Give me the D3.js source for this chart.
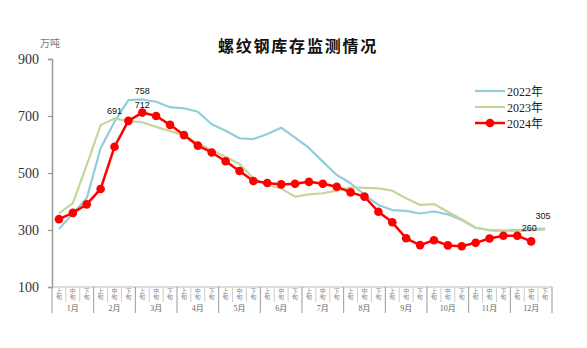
<!DOCTYPE html>
<html>
<head>
<meta charset="utf-8">
<script src="https://cdn.jsdelivr.net/npm/d3@7/dist/d3.min.js"></script>
<style>
  html, body { margin: 0; padding: 0; background: #fff; }
  svg { display: block; }
  .dekad { writing-mode: vertical-rl; text-orientation: upright; }
</style>
</head>
<body>
<svg id="chart" width="587" height="348"></svg>
<script>
// Rebar inventory, 10-day periods (上旬/中旬/下旬) for each month, unit: 万吨
const months = ["1月","2月","3月","4月","5月","6月","7月","8月","9月","10月","11月","12月"];
const dekads = ["上旬","中旬","下旬"];
const yTicks = [100, 300, 500, 700, 900];

const series2022 = [303, 358, 411, 587, 680, 756, 758, 750, 731, 727, 715, 671,
                    648, 622, 619, 637, 659, 624, 588, 540, 493, 464, 423, 388,
                    370, 367, 358, 365, 355, 335, 308, 300, 298, 300, 302, 305];
const series2023 = [358, 394, 528, 668, 691, 683, 678, 662, 647, 633, 604, 580,
                    557, 532, 481, 458, 446, 417, 425, 429, 438, 450, 448, 446,
                    438, 411, 388, 391, 364, 337, 308, 299, 296, 296, 299, 302];
const series2024 = [338, 360, 390, 444, 592, 683, 712, 700, 669, 633, 596, 572,
                    541, 507, 472, 465, 460, 462, 469, 462, 452, 432, 417, 364,
                    327, 271, 247, 264, 246, 243, 255, 270, 280, 280, 260];

const seriesNames = ["2022年", "2023年", "2024年"];
const seriesColors = ["#92CDDC", "#C3D69B", "#FF0000"];

// value labels: [series index, period index]
const valueLabels = [[0, 6], [1, 4], [2, 6], [2, 34], [0, 35]];

const svg = d3.select("#chart");
const plotLeft = 52, plotRight = 552, plotTop = 59, plotBottom = 287;

const periods = d3.range(months.length * dekads.length);
const x = d3.scaleBand().domain(periods).range([plotLeft, plotRight]);
const cx = i => x(i) + x.bandwidth() / 2;
const y = d3.scaleLinear().domain([100, 900]).range([plotBottom, plotTop]);

// title
svg.append("text")
  .attr("x", 298).attr("y", 52)
  .attr("text-anchor", "middle")
  .attr("font-family", "'Noto Sans CJK SC', sans-serif")
  .attr("font-size", 16).attr("font-weight", "bold")
  .attr("letter-spacing", 1.8)
  .attr("fill", "#111")
  .text("螺纹钢库存监测情况");

// unit
svg.append("text")
  .attr("x", 40).attr("y", 47)
  .attr("font-family", "'Noto Sans CJK SC', sans-serif")
  .attr("font-size", 10).attr("fill", "#777")
  .text("万吨");

// y axis
const yAxis = d3.axisLeft(y).tickValues(yTicks).tickSize(4).tickPadding(9);
const gy = svg.append("g").attr("transform", `translate(${plotLeft},0)`).call(yAxis);
gy.select(".domain").attr("stroke", "#999").attr("stroke-width", 1.5);
gy.selectAll(".tick line").attr("stroke", "#999").attr("stroke-width", 1.2);
gy.selectAll(".tick text")
  .attr("font-family", "'Liberation Serif', serif")
  .attr("font-size", 14).attr("fill", "#333");

// x axis baseline
svg.append("line")
  .attr("x1", plotLeft).attr("x2", plotRight).attr("y1", plotBottom).attr("y2", plotBottom)
  .attr("stroke", "#bbb").attr("stroke-width", 1.2);

// category separators: short between 10-day periods, long between months
const gx = svg.append("g");
d3.range(periods.length + 1).forEach(k => {
  const xx = k < periods.length ? x(k) : plotRight;
  const isMonth = k % 3 === 0;
  gx.append("line")
    .attr("x1", xx).attr("x2", xx)
    .attr("y1", plotBottom).attr("y2", isMonth ? 313 : 302)
    .attr("stroke", isMonth ? "#999" : "#ccc").attr("stroke-width", 1);
});

// 10-day period labels, written vertically
gx.selectAll("text.dekad")
  .data(periods)
  .join("text")
  .attr("class", "dekad")
  .attr("x", i => cx(i))
  .attr("y", 287.5)
  .attr("font-family", "'Noto Sans CJK SC', sans-serif")
  .attr("font-size", 6).attr("fill", "#888")
  .text(i => dekads[i % 3]);

// month labels
months.forEach((m, k) => {
  gx.append("text")
    .attr("x", cx(k * 3 + 1)).attr("y", 311)
    .attr("text-anchor", "middle")
    .attr("font-family", "'Liberation Serif', 'Noto Sans CJK SC', serif")
    .attr("font-size", 8).attr("fill", "#666")
    .text(m);
});

// lines
const allSeries = [series2022, series2023, series2024];
const line = d3.line().x((d, i) => cx(i)).y(d => y(d));
allSeries.forEach((s, si) => {
  svg.append("path")
    .datum(s)
    .attr("fill", "none")
    .attr("stroke", seriesColors[si])
    .attr("stroke-width", si === 2 ? 2.5 : 2.2)
    .attr("stroke-linejoin", "round")
    .attr("d", line);
});

// markers for 2024
svg.append("g").selectAll("circle")
  .data(series2024)
  .join("circle")
  .attr("cx", (d, i) => cx(i))
  .attr("cy", d => y(d))
  .attr("r", 4.3)
  .attr("fill", "#FF0000");

// value labels
valueLabels.forEach(([si, i]) => {
  const v = allSeries[si][i];
  svg.append("text")
    .attr("x", cx(i) - (i >= 34 ? 2 : 0))
    .attr("y", y(v) - (i >= 34 ? 10 : 5))
    .attr("text-anchor", "middle")
    .attr("font-family", "'Liberation Sans', Arial, sans-serif")
    .attr("font-size", 9).attr("fill", "#111")
    .text(v);
});

// legend
const legend = svg.append("g");
seriesNames.forEach((name, si) => {
  const ly = 91 + si * 16;
  legend.append("line")
    .attr("x1", 475).attr("x2", 505).attr("y1", ly).attr("y2", ly)
    .attr("stroke", seriesColors[si]).attr("stroke-width", si === 2 ? 2.5 : 2.2);
  if (si === 2) {
    legend.append("circle").attr("cx", 490).attr("cy", ly).attr("r", 4.3).attr("fill", "#FF0000");
  }
  legend.append("text")
    .attr("x", 507).attr("y", ly + 4.5)
    .attr("font-family", "'Liberation Serif', 'Noto Sans CJK SC', serif")
    .attr("font-size", 12).attr("fill", "#222")
    .text(name);
});
</script>
</body>
</html>
